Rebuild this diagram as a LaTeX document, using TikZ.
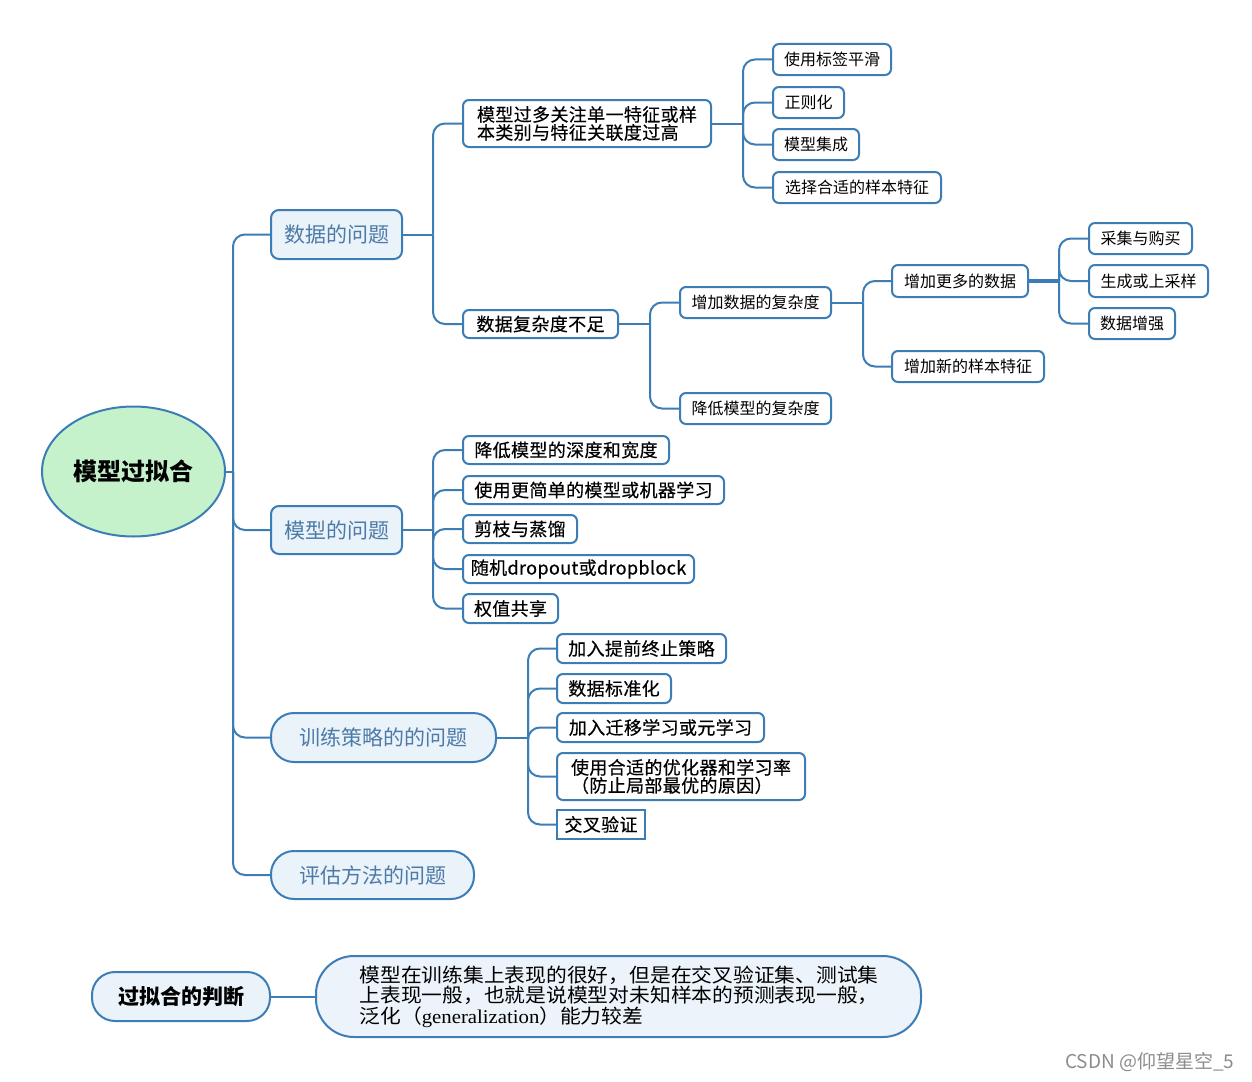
\documentclass[tikz,border=0pt]{standalone}
\usepackage{fontspec}
\setmainfont{Noto Sans CJK SC}
\newfontfamily\cjkmed[FakeBold=0.4,LetterSpace=2]{Noto Sans CJK SC}
\newfontfamily\descfont[FakeStretch=1.065]{Noto Sans CJK SC}
\newfontfamily\serifl[FakeStretch=1.065]{Liberation Serif}
\usetikzlibrary{shapes.geometric}
\definecolor{linec}{RGB}{60,125,182}
\definecolor{lonefill}{RGB}{234,242,250}
\definecolor{lonetext}{RGB}{77,123,167}
\definecolor{rootfill}{RGB}{198,242,203}
\definecolor{descfill}{RGB}{237,243,250}
\begin{document}
\begin{tikzpicture}[x=1pt,y=-1pt,
  conn/.style={draw=linec, line width=2pt},
  elbow/.style={conn, rounded corners=12pt},
  leaf/.style={draw=linec, line width=2pt, fill=white, rounded corners=6pt, inner sep=0pt, font=\fontsize{16}{19}\selectfont},
  midbox/.style={leaf, font=\cjkmed\fontsize{18}{18}\selectfont},
  topbox/.style={draw=linec, line width=2pt, fill=lonefill, rounded corners=8pt, inner sep=0pt, text=lonetext, font=\fontsize{21}{24}\selectfont},
  pillbox/.style={topbox, rounded corners=23pt},
  sz/.style 2 args={minimum width=#1, minimum height=#2}
]
\useasboundingbox (0,0) rectangle (1252,1081);

% root
\node[ellipse, draw=linec, line width=2pt, fill=rootfill, inner sep=0pt, sz={183}{130}, font=\bfseries\fontsize{24}{26}\selectfont] (root) at (133.5,471.5) {模型过拟合};

% level 1
\node[topbox, sz={131}{49}] (d1) at (336.5,234.5) {数据的问题};
\node[topbox, sz={131}{48}] (d2) at (336.5,530) {模型的问题};
\node[pillbox, sz={225}{49}] (d3) at (383.5,737.5) {训练策略的的问题};
\node[pillbox, sz={203}{48}] (d4) at (372.5,875) {评估方法的问题};

% data children
\node[midbox, sz={248}{47}, align=left] (a1) at (587,123.5) {模型过多关注单一特征或样\\本类别与特征关联度过高};
\node[midbox, sz={155}{28}] (a2) at (540.5,324) {数据复杂度不足};

\node[leaf, sz={118}{31}] (b1) at (832,59.5) {使用标签平滑};
\node[leaf, sz={71}{31}] (b2) at (808.5,102.5) {正则化};
\node[leaf, sz={86}{31}] (b3) at (816,144.5) {模型集成};
\node[leaf, sz={168}{31}] (b4) at (857,187.5) {选择合适的样本特征};

\node[leaf, sz={151}{31}] (c1) at (755.5,302.5) {增加数据的复杂度};
\node[leaf, sz={151}{31}] (c2) at (755.5,408.5) {降低模型的复杂度};

\node[leaf, sz={136}{32}] (e1) at (960,281) {增加更多的数据};
\node[leaf, sz={152}{31}] (e2) at (968,366.5) {增加新的样本特征};

\node[leaf, sz={103}{31}] (f1) at (1140.5,238.5) {采集与购买};
\node[leaf, sz={119}{32}] (f2) at (1148.5,281) {生成或上采样};
\node[leaf, sz={86}{31}] (f3) at (1132,323.5) {数据增强};

% model children
\node[midbox, sz={206}{28}] (g1) at (566,450) {降低模型的深度和宽度};
\node[midbox, sz={261}{28}] (g2) at (593.5,490) {使用更简单的模型或机器学习};
\node[midbox, sz={114}{28}] (g3) at (520,529) {剪枝与蒸馏};
\node[midbox, sz={231}{28}] (g4) at (578.5,569) {随机dropout或dropblock};
\node[midbox, sz={95}{29}] (g5) at (510.5,608.5) {权值共享};

% training children
\node[midbox, sz={169}{29}] (h1) at (641.5,648.5) {加入提前终止策略};
\node[midbox, sz={114}{29}] (h2) at (614,688.5) {数据标准化};
\node[midbox, sz={207}{29}] (h3) at (660.5,727.5) {加入迁移学习或元学习};
\node[midbox, sz={248}{47}, align=left] (h4) at (681,776.5) {使用合适的优化器和学习率\\（防止局部最优的原因）};
\node[midbox, sz={88}{29}, rounded corners=0pt] (h5) at (601,824.5) {交叉验证};

% bottom
\node[pillbox, sz={178}{49}, text=black, font=\bfseries\fontsize{21}{24}\selectfont] (j1) at (181,996.5) {过拟合的判断};
\node[draw=linec, line width=2pt, fill=descfill, rounded corners=38pt, sz={605}{81}, inner sep=0pt, text width=518pt, align=left, font=\descfont\fontsize{19.5}{20.5}\selectfont] (j2) at (618.5,996.5) {模型在训练集上表现的很好，但是在交叉验证集、测试集\\上表现一般，也就是说模型对未知样本的预测表现一般，\\泛化（{\serifl generalization}）能力较差};
\draw[conn] (j1.east) -- (j2.west);

% connectors
\coordinate (broot) at ([xshift=7pt]root.east);
\draw[conn] (root.east) -- (broot);
\foreach \c in {d1,d2,d3,d4} \draw[elbow] (broot) |- (\c.west);

\coordinate (bd1) at ([xshift=30pt]d1.east);
\draw[conn] (d1.east) -- (bd1);
\foreach \c in {a1,a2} \draw[elbow] (bd1) |- (\c.west);

\coordinate (ba1) at ([xshift=31pt]a1.east);
\draw[conn] (a1.east) -- (ba1);
\foreach \c in {b1,b2,b3,b4} \draw[elbow] (ba1) |- (\c.west);

\coordinate (ba2) at ([xshift=31pt]a2.east);
\draw[conn] (a2.east) -- (ba2);
\foreach \c in {c1,c2} \draw[elbow] (ba2) |- (\c.west);

\coordinate (bc1) at ([xshift=31pt]c1.east);
\draw[conn] (c1.east) -- (bc1);
\foreach \c in {e1,e2} \draw[elbow] (bc1) |- (\c.west);

\coordinate (be1) at ([xshift=30pt]e1.east);
\draw[conn, line width=3.5pt] (e1.east) -- (be1);
\foreach \c in {f1,f2,f3} \draw[elbow] (be1) |- (\c.west);

\coordinate (bd2) at ([xshift=30pt]d2.east);
\draw[conn] (d2.east) -- (bd2);
\foreach \c in {g1,g2,g3,g4,g5} \draw[elbow] (bd2) |- (\c.west);

\coordinate (bd3) at ([xshift=31pt]d3.east);
\draw[conn] (d3.east) -- (bd3);
\foreach \c in {h1,h2,h3,h4,h5} \draw[elbow] (bd3) |- (\c.west);

% watermark
\node[text=black!45, font=\fontsize{19}{20}\selectfont, anchor=east] (wm) at (1238,1062) {CSDN @仰望星空\_5};
\end{tikzpicture}
\end{document}
